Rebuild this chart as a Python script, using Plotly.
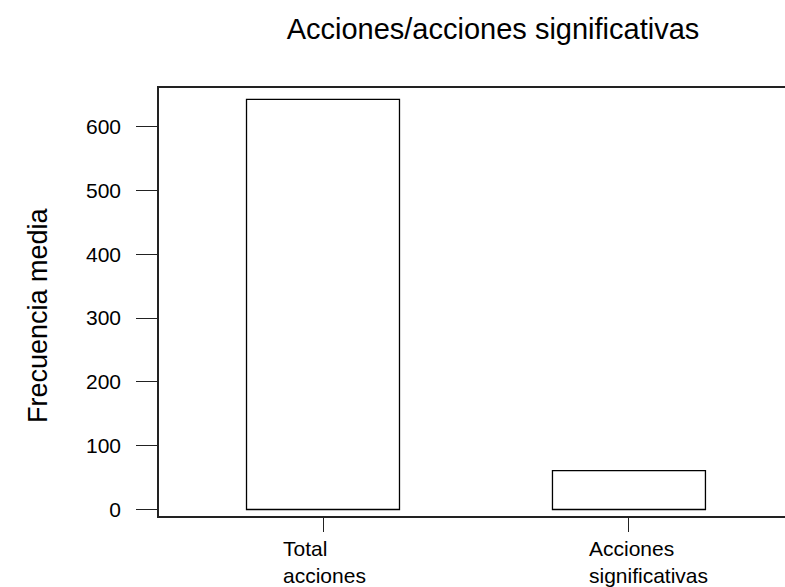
import plotly.graph_objects as go

categories = ["Total<br>acciones", "Acciones<br>significativas"]
values = [643, 61]
y_ticks = [0, 100, 200, 300, 400, 500, 600]
title_text = "Acciones/acciones significativas"
y_title = "Frecuencia media"

FONT = "Liberation Sans, Arial, sans-serif"
xpos = list(range(len(categories)))

fig = go.Figure()
fig.add_trace(go.Bar(
    x=xpos, y=values, width=0.5,
    marker=dict(color="white", line=dict(color="black", width=1.3)),
    showlegend=False, hoverinfo="skip",
))

for xi, lab in zip(xpos, categories):
    fig.add_annotation(
        x=xi, xref="x", y=0, yref="paper", yanchor="top", xanchor="left",
        xshift=-42, yshift=-19, text=lab, align="left", showarrow=False,
        font=dict(family=FONT, size=21, color="black"),
    )

fig.add_annotation(
    x=-0.193, xref="paper", y=0.47, yref="paper", xanchor="center", yanchor="middle",
    text=y_title, textangle=-90, showarrow=False,
    font=dict(family=FONT, size=27, color="black"),
)

fig.update_layout(
    width=785, height=587,
    margin=dict(l=159, r=0, t=88, b=71),
    paper_bgcolor="white", plot_bgcolor="white",
    title=dict(text=title_text, x=0.628, xanchor="center", xref="container",
               y=0.968, yanchor="top", yref="container",
               font=dict(family=FONT, size=29, color="black")),
    xaxis=dict(range=[-0.536, 1.51], tickvals=xpos, ticktext=["", ""],
               showgrid=False, zeroline=False, showline=True, mirror=True,
               linecolor="#222", linewidth=1.5,
               ticks="outside", ticklen=14, tickcolor="#222", tickwidth=1),
    yaxis=dict(range=[-10.2, 660.7], tickvals=y_ticks,
               showgrid=False, zeroline=False, showline=True, mirror=False,
               linecolor="#222", linewidth=1.5,
               ticks="outside", ticklen=21, tickcolor="#222", tickwidth=1,
               ticklabelstandoff=11,
               tickfont=dict(family=FONT, size=21, color="black")),
)

fig.write_html("out.html", config={"displayModeBar": False},
               post_script="document.body.style.margin='0';document.body.style.overflow='hidden';")
